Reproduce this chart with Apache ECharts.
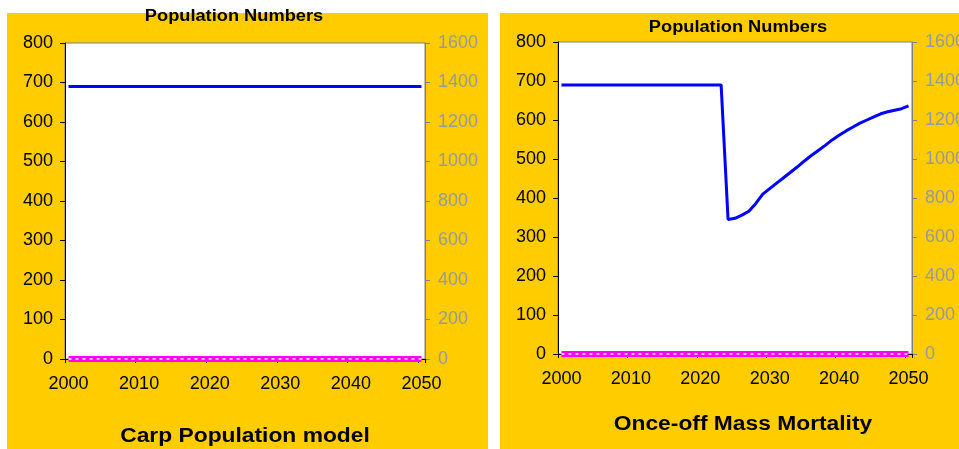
<!DOCTYPE html>
<html>
<head>
<meta charset="utf-8">
<style>
  html, body { margin: 0; padding: 0; background: #ffffff; }
  #chart { width: 959px; height: 449px; }
</style>
<script src="https://cdn.jsdelivr.net/npm/echarts@6/dist/echarts.min.js"></script>
</head>
<body>
<div id="chart"></div>
<script>
// Years 2000..2050
const years = [];
for (let y = 2000; y <= 2050; y++) years.push(String(y));

// Carp numbers, no intervention (left axis)
const carpBaseline = [
  690, 690, 690, 690, 690, 690, 690, 690, 690, 690,
  690, 690, 690, 690, 690, 690, 690, 690, 690, 690,
  690, 690, 690, 690, 690, 690, 690, 690, 690, 690,
  690, 690, 690, 690, 690, 690, 690, 690, 690, 690,
  690, 690, 690, 690, 690, 690, 690, 690, 690, 690, 690
];

// Carp numbers with a once-off mass mortality event in 2024 (left axis)
const carpMortality = [
  690, 690, 690, 690, 690, 690, 690, 690, 690, 690,
  690, 690, 690, 690, 690, 690, 690, 690, 690, 690,
  690, 690, 690, 690, 345, 348, 356, 366, 386, 410,
  424, 438, 452, 466, 480, 495, 509, 522, 535, 549,
  561, 572, 582, 592, 600, 608, 616, 621, 625, 629, 636
];

// Second population (right axis), zero throughout
const secondBaseline = years.map(() => 0);
const secondMortality = years.map(() => 0);

const leftTicks = [0, 100, 200, 300, 400, 500, 600, 700, 800];
const rightTicks = [0, 200, 400, 600, 800, 1000, 1200, 1400, 1600];

const titleTop = 'Population Numbers';
const panelTitles = ['Carp Population model', 'Once-off Mass Mortality'];

const FONT = "'Liberation Sans', Arial, sans-serif";
const YELLOW = '#FFCC00';

function yAxes(gridIndex) {
  return [
    {
      gridIndex, type: 'value',
      min: leftTicks[0], max: leftTicks[leftTicks.length - 1], interval: 100,
      axisLine: { show: true, lineStyle: { color: '#000000', width: 1 } },
      axisTick: { show: true, inside: false, length: 5, lineStyle: { color: '#000000' } },
      axisLabel: { color: '#000000', fontSize: 18, fontFamily: FONT, margin: 12, formatter: v => String(v) },
      splitLine: { show: false }
    },
    {
      gridIndex, type: 'value', position: 'right',
      min: rightTicks[0], max: rightTicks[rightTicks.length - 1], interval: 200,
      axisLine: { show: true, lineStyle: { color: '#808080', width: 1 } },
      axisTick: { show: true, inside: false, length: 5, lineStyle: { color: '#808080' } },
      axisLabel: { color: '#999999', fontSize: 18, fontFamily: FONT, margin: 13, formatter: v => String(v) },
      splitLine: { show: false }
    }
  ];
}

function xAxis(gridIndex) {
  return {
    gridIndex, type: 'category', data: years, boundaryGap: true,
    axisLine: { show: true, onZero: false, lineStyle: { color: '#000000' } },
    axisTick: { show: true, interval: 9, length: 4, lineStyle: { color: '#000000' } },
    axisLabel: { interval: 9, color: '#000000', fontSize: 18, fontFamily: FONT, margin: 16 }
  };
}

function seriesFor(gridIdx, carp, second) {
  const xi = gridIdx, yl = gridIdx * 2, yr = gridIdx * 2 + 1;
  return [
    {
      type: 'line', xAxisIndex: xi, yAxisIndex: yr, data: second,
      showSymbol: false, clip: false, z: 5, silent: true,
      lineStyle: { color: '#FF00FF', width: 6 }
    },
    {
      type: 'line', xAxisIndex: xi, yAxisIndex: yr, data: second,
      showSymbol: false, clip: false, z: 6, silent: true,
      lineStyle: { color: '#FFFFFF', width: 1.5, type: [3, 4] }
    },
    {
      type: 'line', xAxisIndex: xi, yAxisIndex: yl, data: carp,
      showSymbol: false, clip: false, z: 7, silent: true,
      lineStyle: { color: '#0000FF', width: 3 }
    }
  ];
}

function textEl(str, cx, cy, size) {
  return {
    type: 'text', x: cx, y: cy, scaleX: 1.14, z: 100,
    style: {
      text: str, x: 0, y: 0, align: 'center', verticalAlign: 'middle',
      font: 'bold ' + size + 'px ' + FONT, fill: '#000000'
    }
  };
}

const chart = echarts.init(document.getElementById('chart'), null, { renderer: 'canvas' });
chart.setOption({
  animation: false,
  backgroundColor: '#ffffff',
  graphic: [
    { type: 'rect', shape: { x: 7, y: 13, width: 481, height: 436 }, style: { fill: YELLOW }, z: -10 },
    { type: 'rect', shape: { x: 500, y: 13, width: 459, height: 436 }, style: { fill: YELLOW }, z: -10 },
    textEl(titleTop, 234, 17, 16),
    textEl(titleTop, 738, 28, 16),
    textEl(panelTitles[0], 245, 436, 20),
    textEl(panelTitles[1], 743, 424, 20)
  ],
  grid: [
    { left: 65, top: 43, width: 360, height: 316, show: true, backgroundColor: '#ffffff', borderColor: '#808080', borderWidth: 1, containLabel: false, outerBoundsMode: 'none' },
    { left: 558, top: 42, width: 354, height: 312, show: true, backgroundColor: '#ffffff', borderColor: '#808080', borderWidth: 1, containLabel: false, outerBoundsMode: 'none' }
  ],
  xAxis: [xAxis(0), xAxis(1)],
  yAxis: [...yAxes(0), ...yAxes(1)],
  series: [
    ...seriesFor(0, carpBaseline, secondBaseline),
    ...seriesFor(1, carpMortality, secondMortality)
  ]
});
</script>
</body>
</html>
